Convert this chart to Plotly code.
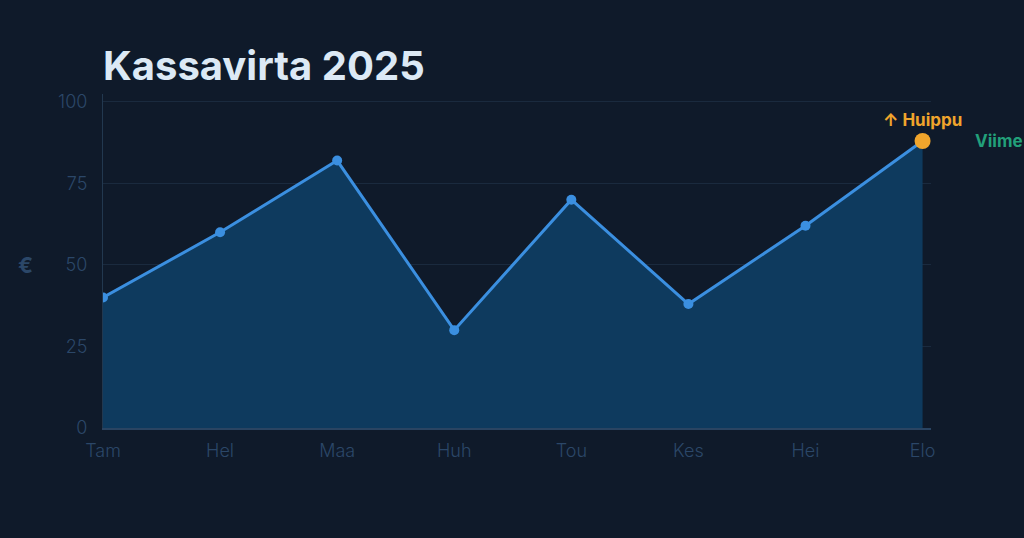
import plotly.graph_objects as go

months = ["Tam", "Hel", "Maa", "Huh", "Tou", "Kes", "Hei", "Elo"]
values = [40, 60, 82, 30, 70, 38, 62, 88]
y_ticks = [0, 25, 50, 75, 100]
title_text = "Kassavirta 2025"
y_title = "€"
peak_label = "↑ Huippu"
last_label = "Viime"

BG = "#0f1a2a"
TICK = "#2b4768"
LINE = "#3b8fe0"
FILL = "#0e3a5e"
ORANGE = "#f0a52c"
GREEN = "#22a07a"

xs = list(range(len(months)))

fig = go.Figure()
fig.add_trace(go.Scatter(
    x=xs, y=values, mode="lines+markers",
    line=dict(color=LINE, width=3),
    marker=dict(color=LINE, size=10),
    fill="tozeroy", fillcolor=FILL,
    hoverinfo="skip", showlegend=False,
))
fig.add_trace(go.Scatter(
    x=[xs[-1]], y=[values[-1]], mode="markers",
    marker=dict(color=ORANGE, size=16),
    cliponaxis=False, showlegend=False, hoverinfo="skip",
))
fig.add_annotation(
    x=xs[-1], y=values[-1], text=f"<b>{peak_label}</b>", showarrow=False,
    yshift=21, xshift=0, font=dict(color=ORANGE, size=17, family="Inter"),
    xanchor="center", yanchor="middle",
)
fig.add_annotation(
    x=xs[-1], y=values[-1], text=f"<b>{last_label}</b>", showarrow=False,
    xshift=50, font=dict(color=GREEN, size=17, family="Inter"),
    xanchor="left", yanchor="middle",
)
fig.add_annotation(
    xref="paper", yref="y", x=-78/828, y=50, text=f"<b>{y_title}</b>",
    showarrow=False, xanchor="center", yanchor="middle",
    font=dict(color=TICK, size=22, family="Inter"),
)

fig.update_layout(
    width=1024, height=538,
    paper_bgcolor=BG, plot_bgcolor=BG,
    margin=dict(l=103, r=93, t=94, b=110),
    title=dict(text=f"<b>{title_text}</b>", x=103/1024, xanchor="left",
               y=1 - 66/538, yanchor="middle",
               font=dict(size=40, color="#dce9f5", family="Inter")),
    xaxis=dict(
        range=[0, 7.072], tickvals=xs, ticktext=months,
        showgrid=False, zeroline=False, showline=True,
        linecolor="#2a4462", linewidth=2, ticks="", ticklabelstandoff=5,
        tickfont=dict(color=TICK, size=18, family="Inter", weight=300),
    ),
    yaxis=dict(
        range=[0, 102.4], tickvals=y_ticks,
        showgrid=True, gridcolor="#1a2a3e", gridwidth=1,
        zeroline=False, showline=True, linecolor="#22384f", linewidth=1,
        ticks="", ticklabelstandoff=11,
        tickfont=dict(color=TICK, size=18, family="Inter", weight=300),
    ),
)
fig.write_html("out.html", config={"displayModeBar": False},
               post_script="document.body.style.margin='0px';")
